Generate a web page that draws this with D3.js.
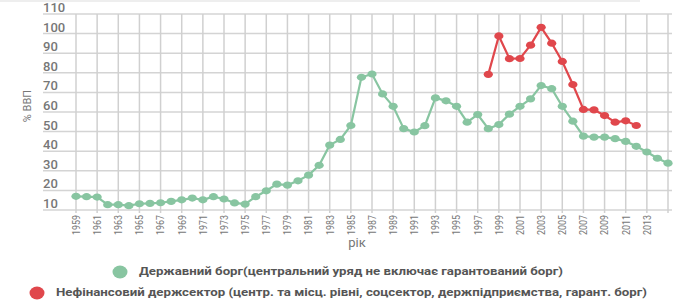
<!DOCTYPE html>
<html>
<head>
<meta charset="utf-8">
<script src="https://cdn.jsdelivr.net/npm/d3@7"></script>
<style>
  body { margin: 0; background: #fff; }
  svg { font-family: Roboto, "Open Sans", sans-serif; }
</style>
</head>
<body>
<svg id="chart" width="700" height="300"></svg>
<script>
// state debt, % of GDP
const govYears = d3.range(1959, 2016);
const govDebt = [17.0, 16.8, 16.6, 12.7, 12.7, 12.2, 13.2, 13.4, 13.7, 14.4,
    15.2, 16.1, 15.2, 16.8, 15.6, 13.6, 13.0, 16.8, 19.8, 23.2,
    22.7, 24.9, 27.8, 32.8, 43.1, 46.0, 53.1, 77.7, 79.4, 69.2,
    62.9, 51.5, 49.8, 53.0, 67.2, 65.7, 62.9, 54.8, 58.7, 51.5,
    53.6, 58.9, 62.9, 66.7, 73.5, 71.9, 62.9, 55.3, 47.7, 47.2,
    47.2, 46.4, 45.0, 42.5, 39.6, 36.4, 33.9];

// non-financial public sector
const sectorYears = d3.range(1998, 2013);
const sectorDebt = [79.2, 98.8, 87.2, 87.3, 94.1, 103.2, 95.1, 85.8, 74.0, 61.3,
    61.1, 58.2, 54.8, 55.5, 53.1];

const yTicks = d3.range(10, 111, 10);
const xTicks = d3.range(1959, 2014, 2);
const gridYears = d3.range(1959, 2016, 2);

const legendItems = [
    "Державний борг(центральний уряд не включає гарантований борг)",
    "Нефінансовий держсектор (центр. та місц. рівні, соцсектор, держпідприємства, гарант. борг)"
];
const colors = ["#88c5a1", "#e0474c"];

const svg = d3.select("#chart");

const x = d3.scaleLinear().domain([1959, 2015]).range([76, 668]);
const y = d3.scaleLinear().domain([10, 110]).range([210, 14]);

// faint top border
svg.append("line")
    .attr("x1", 0).attr("x2", 640).attr("y1", 1).attr("y2", 1)
    .attr("stroke", "#eee").attr("stroke-width", 2);

// horizontal grid
svg.append("g").selectAll("line")
    .data(yTicks)
    .join("line")
    .attr("x1", 43).attr("x2", 672)
    .attr("y1", d => y(d)).attr("y2", d => y(d))
    .attr("stroke", "#d4d4d4").attr("stroke-width", 1.5);

// vertical grid
svg.append("g").selectAll("line")
    .data(gridYears)
    .join("line")
    .attr("x1", d => x(d)).attr("x2", d => x(d))
    .attr("y1", y(110)).attr("y2", y(10) + 3)
    .attr("stroke", "#d0d0d0").attr("stroke-width", 1.5);

// y labels
svg.append("g").selectAll("text")
    .data(yTicks)
    .join("text")
    .attr("x", 43)
    .attr("y", d => y(d) - 2)
    .text(d => d)
    .attr("fill", "#777")
    .style("font-size", "13px")
    .style("font-weight", "500");

// x labels
svg.append("g").selectAll("text")
    .data(xTicks)
    .join("text")
    .attr("transform", d => `translate(${x(d)},${215}) rotate(-90)`)
    .attr("text-anchor", "end")
    .attr("dy", "0.35em")
    .attr("textLength", 20)
    .attr("lengthAdjust", "spacingAndGlyphs")
    .text(d => d)
    .attr("fill", "#777")
    .style("font-size", "11px");

// axis titles
svg.append("text")
    .attr("transform", `translate(${27},${106}) rotate(-90)`)
    .attr("text-anchor", "middle")
    .attr("dy", "0.35em")
    .text("% ВВП")
    .attr("fill", "#777")
    .style("font-size", "11px");

svg.append("text")
    .attr("x", 357).attr("y", 247)
    .attr("text-anchor", "middle")
    .text("рік")
    .attr("fill", "#777")
    .style("font-size", "13px");

// series
const series = [
    { years: govYears, values: govDebt, color: colors[0] },
    { years: sectorYears, values: sectorDebt, color: colors[1] }
];

const line = d3.line()
    .x(d => x(d[0]))
    .y(d => y(d[1]));

series.forEach(s => {
    const pts = s.years.map((yr, i) => [yr, s.values[i]]);
    svg.append("path")
        .datum(pts)
        .attr("d", line)
        .attr("fill", "none")
        .attr("stroke", s.color)
        .attr("stroke-width", 2.2);
    svg.append("g").selectAll("ellipse")
        .data(pts)
        .join("ellipse")
        .attr("cx", d => x(d[0]))
        .attr("cy", d => y(d[1]))
        .attr("rx", 4.6)
        .attr("ry", 3.6)
        .attr("fill", s.color);
});

// legend
const legendPos = [[120, 272], [37, 293]];
const legendWidth = [424, 591];
legendItems.forEach((label, i) => {
    const g = svg.append("g")
        .attr("transform", `translate(${legendPos[i][0]},${legendPos[i][1]})`);
    g.append("ellipse")
        .attr("rx", 7.5).attr("ry", 6.5)
        .attr("fill", colors[i]);
    g.append("text")
        .attr("x", 19)
        .attr("dy", "0.33em")
        .attr("textLength", legendWidth[i])
        .attr("lengthAdjust", "spacingAndGlyphs")
        .text(label)
        .attr("fill", "#555")
        .style("font-size", "10.5px")
        .style("font-weight", "bold");
});
</script>
</body>
</html>
